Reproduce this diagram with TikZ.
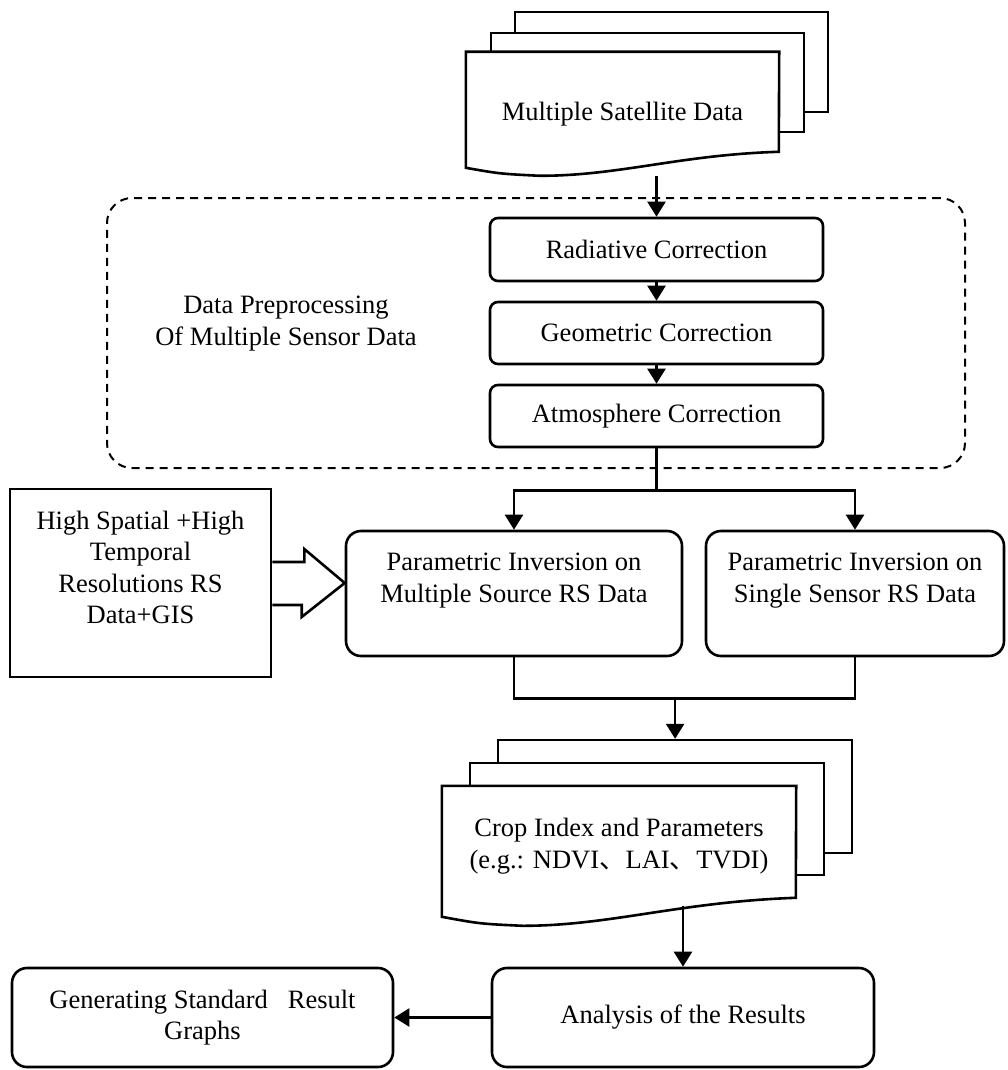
\documentclass[tikz,border=0pt]{standalone}
\usepackage{fontspec}
\setmainfont{Liberation Serif}
\newfontfamily\cjk{Noto Sans CJK SC}
\usetikzlibrary{positioning, arrows.meta}
\pgfdeclarelayer{bg}
\pgfsetlayers{bg,main}

\begin{document}
\begin{tikzpicture}[x=1pt, y=-1pt,
  >={Triangle[length=15pt, width=18pt]},
  every node/.style={font=\fontsize{26.5}{31.5}\selectfont, inner sep=0pt, align=center},
  box/.style={draw, line width=2.6pt, rounded corners=8pt},
  bigbox/.style={draw, line width=2.6pt, rounded corners=15pt},
  plainbox/.style={draw, line width=2.6pt},
  sheet/.style={draw, fill=white, line width=2.6pt},
  link/.style={line width=2.4pt},
  region/.style={draw, line width=2pt, dash pattern=on 8pt off 6pt, rounded corners=25pt}]

  \useasboundingbox (0,0) rectangle (1008,1070);

  % input data, stacked sheets
  \node[minimum width=313pt, minimum height=124pt] (sat) at (622.5,114) {Multiple Satellite Data};
  \begin{pgfonlayer}{bg}
    \node[sheet, anchor=north west, minimum width=313pt, minimum height=100pt] (sat3) at ([shift={(48,-41)}]sat.north west) {};
    \node[sheet, anchor=north west, minimum width=313pt, minimum height=99pt] (sat2) at ([shift={(24,-20)}]sat.north west) {};
    \draw[sheet] (sat.north west) -- ++(0,116) .. controls +(34,6) .. ++(74,8)
      .. controls +(80,0) and +(-99,3) .. ++(239,-24) -- (sat.north east) -- cycle;
  \end{pgfonlayer}

  % preprocessing
  \node[region, minimum width=858pt, minimum height=270pt] (pre) at (536,333) {};
  \node (pretext) at (286,323.5) {Data Preprocessing\\Of Multiple Sensor Data};
  \node[box, minimum width=333pt, minimum height=63pt] (rad) at (656.5,249.5) {Radiative Correction};
  \node[box, minimum width=333pt, minimum height=62pt] (geo) at (656.5,333) {Geometric Correction};
  \node[box, minimum width=333pt, minimum height=62pt] (atm) at (656.5,416) {Atmosphere Correction};

  % inversion
  \node[plainbox, minimum width=261pt, minimum height=188pt] (high) at (140.5,583)
    {High Spatial +High\\Temporal\\Resolutions RS\\Data+GIS\\\mbox{}};
  \node[bigbox, minimum width=336pt, minimum height=125pt] (pmul) at (514,593.5)
    {Parametric Inversion on\\Multiple Source RS Data\\\mbox{}};
  \node[bigbox, minimum width=298pt, minimum height=125pt] (psing) at (855,593.5)
    {Parametric Inversion on\\Single Sensor RS Data\\\mbox{}};

  % results, stacked sheets
  \node[minimum width=354pt, minimum height=120pt] (crop) at (619,846)
    {Crop Index and Parameters\\(e.g.: NDVI{\cjk 、}LAI{\cjk 、}TVDI)};
  \begin{pgfonlayer}{bg}
    \node[sheet, anchor=north west, minimum width=354pt, minimum height=113pt] (crop3) at ([shift={(55,-47)}]crop.north west) {};
    \node[sheet, anchor=north west, minimum width=354pt, minimum height=112pt] (crop2) at ([shift={(27,-24)}]crop.north west) {};
    \draw[sheet] (crop.north west) -- ++(0,131) .. controls +(38,7) .. ++(81,9)
      .. controls +(87,0) and +(-116,4) .. ++(273,-28) -- (crop.north east) -- cycle;
  \end{pgfonlayer}

  \node[bigbox, minimum width=381pt, minimum height=99pt] (graph) at (202.5,1017.5)
    {Generating Standard\ \ \ Result\\Graphs};
  \node[bigbox, minimum width=382pt, minimum height=99pt] (ana) at (683,1017.5) {Analysis of the Results};

  % connectors
  \draw[link, ->] (sat.south -| rad.north) -- (rad.north);
  \draw[link, ->] (rad) -- (geo);
  \draw[link, ->] (geo) -- (atm);
  \draw[link] (atm.south) -- ++(0,42) coordinate (split);
  \draw[link, ->] (split) -| (pmul.north);
  \draw[link, ->] (split) -| (psing.north);
  \draw[link] (pmul.south) -- ++(0,41) coordinate (join) -| (psing.south);
  \draw[link, ->] (join -| crop3.north) -- (crop3.north);
  \draw[link, ->] (crop.south -| ana.north) -- (ana.north);
  \draw[link, ->] (ana.west) -- (graph.east);

  % block arrow
  \draw[line width=2.6pt] ([yshift=21pt]high.east) -- ++(32,0) -- ++(0,-13) -- (pmul.west |- high.east)
    -- ++(-43,34) -- ++(0,-12) -- ([yshift=-22pt]high.east);
\end{tikzpicture}
\end{document}
